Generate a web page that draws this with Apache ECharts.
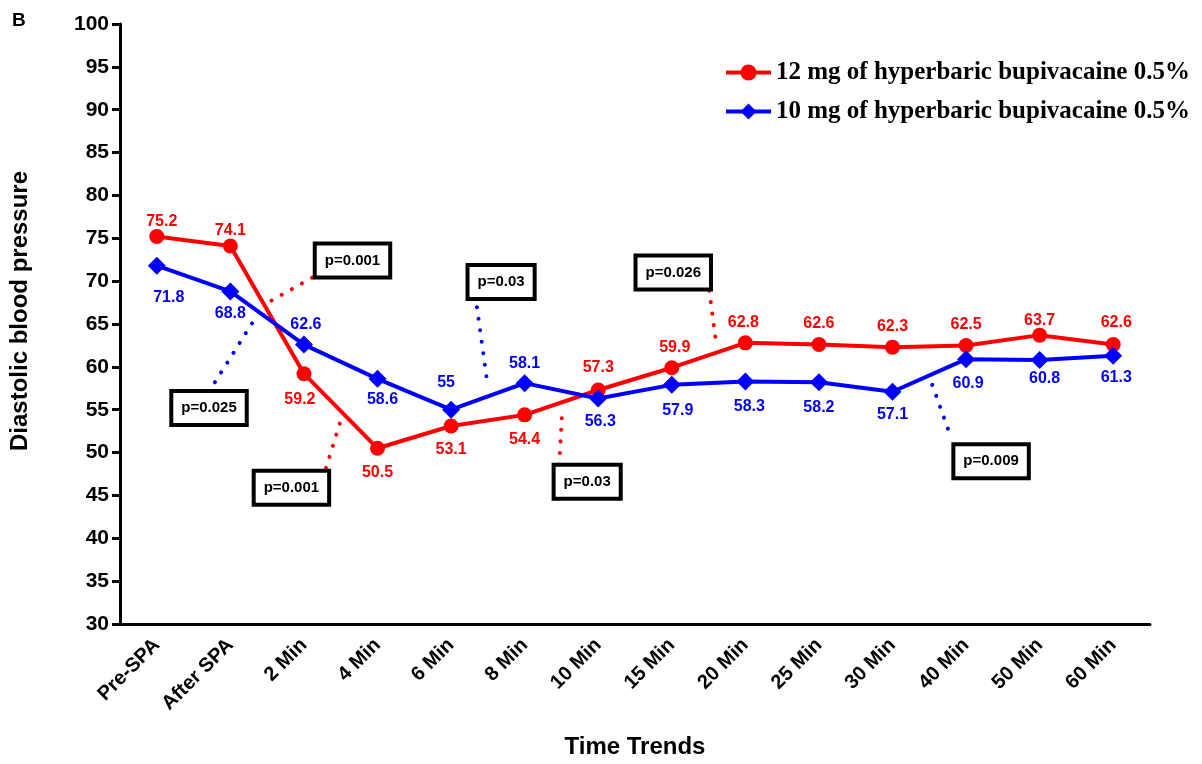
<!DOCTYPE html>
<html>
<head>
<meta charset="utf-8">
<script src="https://cdn.jsdelivr.net/npm/echarts@6/dist/echarts.min.js"></script>
<style>
html,body{margin:0;padding:0;background:#fff;}
#chart{width:1202px;height:764px;}
</style>
</head>
<body>
<div id="chart"></div>
<script>
// ---- Data ----
var categories = ['Pre-SPA','After SPA','2 Min','4 Min','6 Min','8 Min','10 Min','15 Min','20 Min','25 Min','30 Min','40 Min','50 Min','60 Min'];
var seriesNames = ['12 mg of hyperbaric bupivacaine 0.5%','10 mg of hyperbaric bupivacaine 0.5%'];
var red12mg = [75.2, 74.1, 59.2, 50.5, 53.1, 54.4, 57.3, 59.9, 62.8, 62.6, 62.3, 62.5, 63.7, 62.6];
var blue10mg = [71.8, 68.8, 62.6, 58.6, 55, 58.1, 56.3, 57.9, 58.3, 58.2, 57.1, 60.9, 60.8, 61.3];
var yTicks = {min: 30, max: 100, interval: 5};
// p-value annotations: box centre and dotted leader in data units (x = category index)
var annotationTexts = ['p=0.001','p=0.025','p=0.03','p=0.001','p=0.03','p=0.026','p=0.009'];
var annotationBox = [[2.66,72.4],[0.71,55.2],[4.68,69.9],[1.83,45.9],[5.85,46.6],[7.02,71.0],[11.34,49.0]];
var annotationLineFrom = [[2.11,70.4],[0.79,58.2],[4.33,68.3],[2.30,48.2],[5.47,48.6],[7.51,68.9],[10.54,57.9]];
var annotationLineTo = [[1.47,67.3],[1.37,66.1],[4.50,57.7],[2.52,54.3],[5.51,54.8],[7.60,62.9],[10.79,51.9]];
var annotationSeries = [0,1,1,0,0,0,1];

// ---- Styles ----
var colors = ['#ff0000','#0000ff'];
var redLabelPos = ['top','top','bottom','bottom','bottom','bottom','top','top','top','top','top','top','top','top'];
var redLabelOff = [[5,6],[0,5],[-4,5],[0,4],[0,3],[0,4],[0,-2],[3,0],[-2,0],[0,0],[0,0],[0,0],[0,6],[3,-1]];
var blueLabelPos = ['bottom','bottom','top','bottom','top','top','bottom','bottom','bottom','bottom','bottom','bottom','bottom','bottom'];
var blueLabelOff = [[12,10],[0,0],[2,2],[5,-1],[-5,-5],[0,2],[2,1],[6,4],[4,3],[0,3],[0,1],[2,2],[5,-3],[3,0]];
var FONT = 'Liberation Sans, Arial, sans-serif';

function buildData(vals, pos, off){
  return vals.map(function(v,i){
    return {value: v, label: {position: pos[i], offset: off[i]}};
  });
}

var chart = echarts.init(document.getElementById('chart'), null, {renderer:'canvas'});
var axisLineStyle = {color:'#000', width:3};
var option = {
  animation: false,
  backgroundColor: '#fff',
  title: {
    text: 'B', left: 7, top: 6,
    textStyle: {fontFamily: FONT, fontWeight: 'bold', fontSize: 19, color: '#000'}
  },
  legend: {
    orient: 'vertical', left: 719, top: 55,
    itemWidth: 45, itemHeight: 20, itemGap: 14,
    data: seriesNames,
    lineStyle: {width: 4},
    textStyle: {fontFamily: 'Liberation Serif, Times New Roman, serif', fontWeight: 'bold', fontSize: 25, color: '#000'}
  },
  grid: {left: 120, right: 52, top: 24, bottom: 134, containLabel: false},
  xAxis: [{
    type: 'category',
    data: categories,
    boundaryGap: true,
    name: 'Time Trends',
    nameLocation: 'middle',
    nameGap: 111,
    nameTextStyle: {fontFamily: FONT, fontWeight: 'bold', fontSize: 24, color: '#000'},
    axisLine: {lineStyle: axisLineStyle},
    axisTick: {alignWithLabel: true, length: 8, lineStyle: axisLineStyle},
    axisLabel: {rotate: 45, margin: 18, fontFamily: FONT, fontWeight: 'bold', fontSize: 20, color: '#000', interval: 0},
    splitLine: {show: false}
  },{
    type: 'value', min: -0.5, max: categories.length - 0.5, show: false
  }],
  yAxis: {
    type: 'value',
    min: yTicks.min, max: yTicks.max, interval: yTicks.interval,
    name: 'Diastolic blood pressure',
    nameLocation: 'middle',
    nameGap: 88,
    nameTextStyle: {fontFamily: FONT, fontWeight: 'bold', fontSize: 24, color: '#000', padding: [0, 0, 0, 26]},
    axisLine: {show: true, onZero: false, lineStyle: axisLineStyle},
    axisTick: {show: true, length: 8, lineStyle: axisLineStyle},
    axisLabel: {margin: 11, fontFamily: FONT, fontWeight: 'bold', fontSize: 21, color: '#000'},
    splitLine: {show: false}
  },
  series: [{
    name: seriesNames[0],
    type: 'line',
    data: buildData(red12mg, redLabelPos, redLabelOff),
    symbol: 'circle', symbolSize: 15,
    lineStyle: {color: colors[0], width: 4},
    itemStyle: {color: colors[0]},
    label: {show: true, fontFamily: FONT, fontWeight: 'bold', fontSize: 16, color: colors[0]},
    z: 2
  },{
    name: seriesNames[1],
    type: 'line',
    data: buildData(blue10mg, blueLabelPos, blueLabelOff),
    symbol: 'diamond', symbolSize: 18,
    lineStyle: {color: colors[1], width: 4},
    itemStyle: {color: colors[1]},
    label: {show: true, fontFamily: FONT, fontWeight: 'bold', fontSize: 16, color: colors[1]},
    z: 3
  }]
};
chart.setOption(option);

function px(pt){ return chart.convertToPixel({xAxisIndex: 1, yAxisIndex: 0}, pt); }
var graphics = [];
annotationTexts.forEach(function(t, i){
  var a = px(annotationLineFrom[i]), b = px(annotationLineTo[i]);
  graphics.push({
    type: 'line', z: 50,
    shape: {x1: a[0], y1: a[1], x2: b[0], y2: b[1]},
    style: {stroke: colors[annotationSeries[i]], lineWidth: 4, lineDash: [0.1, 11.5], lineCap: 'round'}
  });
});
annotationTexts.forEach(function(t, i){
  var c = px(annotationBox[i]);
  graphics.push({
    type: 'text', z: 60,
    x: c[0], y: c[1],
    style: {
      text: t, font: 'bold 15px ' + FONT, fill: '#000',
      align: 'center', verticalAlign: 'middle',
      backgroundColor: '#fff', borderColor: '#000', borderWidth: 4,
      padding: [8, 8, 7, 8]
    }
  });
});
chart.setOption({graphic: graphics});
</script>
</body>
</html>
